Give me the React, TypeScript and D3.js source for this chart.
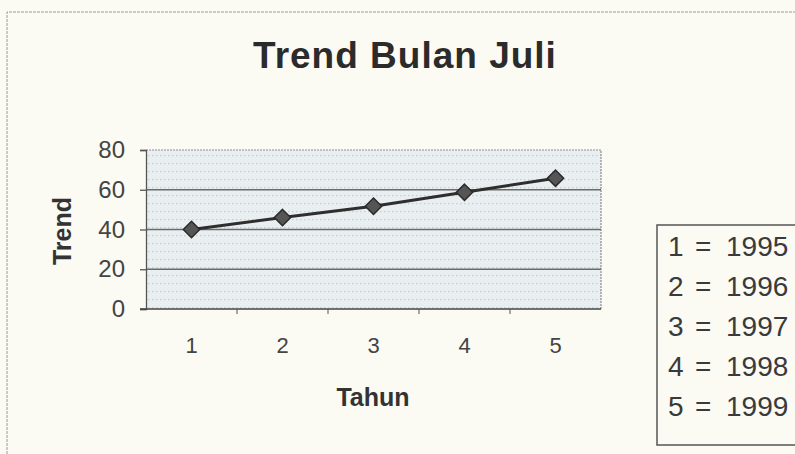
import React, { useRef, useEffect } from 'react';
import * as d3 from 'd3';

// Chart values.
const categories = ['1', '2', '3', '4', '5'];
const trendValues = [40, 46, 51.7, 58.7, 65.8];
const yTicks = [0, 20, 40, 60, 80];
const legendYears = ['1995', '1996', '1997', '1998', '1999'];

const FONT = "'Liberation Sans', Arial, sans-serif";

const App = () => {
  const ref = useRef<SVGSVGElement>(null);

  useEffect(() => {
    const svg = d3.select(ref.current);
    svg.selectAll('*').remove();

    const width = 795;
    const height = 454;

    // Paper background and the outer chart frame (cropped at right/bottom).
    svg.append('rect').attr('width', width).attr('height', height).attr('fill', '#fbfaf3');
    svg.append('path')
      .attr('d', `M7,${height} V12 H${width}`)
      .attr('fill', 'none')
      .attr('stroke', '#9a9a96')
      .attr('stroke-width', 1)
      .attr('stroke-dasharray', '3,1');

    // Scales
    const x = d3.scaleBand().domain(categories).range([146, 601]);
    const y = d3.scaleLinear().domain([0, 80]).range([309, 150]);
    const [x0, x1] = x.range();

    // Dotted plot-area fill
    const defs = svg.append('defs');
    const pat = defs.append('pattern')
      .attr('id', 'dots')
      .attr('width', 4)
      .attr('height', 8)
      .attr('patternUnits', 'userSpaceOnUse');
    pat.append('rect').attr('width', 4).attr('height', 8).attr('fill', '#e9eef0');
    pat.append('rect').attr('x', 0).attr('y', 3).attr('width', 1.5).attr('height', 1.2).attr('fill', '#c9cdcd');

    svg.append('rect')
      .attr('x', x0)
      .attr('y', y(80))
      .attr('width', x1 - x0)
      .attr('height', y(0) - y(80))
      .attr('fill', 'url(#dots)');

    // Dotted border on top and right
    svg.append('path')
      .attr('d', `M${x0},${y(80)} H${x1} V${y(0)}`)
      .attr('fill', 'none')
      .attr('stroke', '#8d8d8d')
      .attr('stroke-width', 1.2)
      .attr('stroke-dasharray', '2,1');

    // Gridlines
    svg.append('g')
      .selectAll('line')
      .data(yTicks.filter(d => d > 0 && d < 80))
      .join('line')
      .attr('x1', x0)
      .attr('x2', x1)
      .attr('y1', d => y(d))
      .attr('y2', d => y(d))
      .attr('stroke', '#6b6b6b')
      .attr('stroke-width', 1.4);

    // Y axis
    const yAxis = svg.append('g')
      .attr('transform', `translate(${x0},0)`)
      .call(d3.axisLeft(y).tickValues(yTicks).tickSize(6).tickPadding(15));
    yAxis.select('.domain').attr('stroke', '#555').attr('stroke-width', 1.3);
    yAxis.selectAll('.tick line').attr('stroke', '#555').attr('stroke-width', 1.3);
    yAxis.selectAll('.tick text')
      .attr('fill', '#444')
      .style('font-family', FONT)
      .style('font-size', '24px');

    // X axis with ticks at category boundaries
    const xAxisG = svg.append('g').attr('transform', `translate(0,${y(0)})`);
    xAxisG.append('line')
      .attr('x1', x0 - 6).attr('x2', x1)
      .attr('stroke', '#444').attr('stroke-width', 1.6);
    xAxisG.selectAll('line.tk')
      .data(categories.slice(1))
      .join('line')
      .attr('class', 'tk')
      .attr('x1', d => x(d)!)
      .attr('x2', d => x(d)!)
      .attr('y1', 0)
      .attr('y2', 5)
      .attr('stroke', '#555');
    xAxisG.selectAll('text')
      .data(categories)
      .join('text')
      .attr('x', d => x(d)! + x.bandwidth() / 2)
      .attr('y', 44)
      .attr('text-anchor', 'middle')
      .attr('fill', '#444')
      .style('font-family', FONT)
      .style('font-size', '22px')
      .text(d => d);

    // Trend line
    const pts = categories.map((c, i) => [x(c)! + x.bandwidth() / 2, y(trendValues[i])] as [number, number]);
    svg.append('path')
      .attr('d', d3.line()(pts))
      .attr('fill', 'none')
      .attr('stroke', '#2e2e2e')
      .attr('stroke-width', 3);

    // Diamond markers
    const diamond = d3.symbol().type(d3.symbolDiamond2).size(170);
    svg.append('g')
      .selectAll('path')
      .data(pts)
      .join('path')
      .attr('transform', d => `translate(${d[0]},${d[1]})`)
      .attr('d', diamond)
      .attr('fill', '#555')
      .attr('stroke', '#2a2a2a')
      .attr('stroke-width', 1.5);

    // Titles
    svg.append('text')
      .attr('x', 405)
      .attr('y', 68)
      .attr('text-anchor', 'middle')
      .attr('fill', '#2b2b2b')
      .style('font-family', FONT)
      .style('font-weight', 'bold')
      .style('font-size', '37px')
      .style('letter-spacing', '1px')
      .text('Trend Bulan Juli');

    svg.append('text')
      .attr('x', 373)
      .attr('y', 406)
      .attr('text-anchor', 'middle')
      .attr('fill', '#333')
      .style('font-family', FONT)
      .style('font-weight', 'bold')
      .style('font-size', '25px')
      .text('Tahun');

    svg.append('text')
      .attr('transform', 'translate(71,231) rotate(-90)')
      .attr('text-anchor', 'middle')
      .attr('fill', '#333')
      .style('font-family', FONT)
      .style('font-weight', 'bold')
      .style('font-size', '25px')
      .text('Trend');

    // Legend box with year codes
    svg.append('rect')
      .attr('x', 657)
      .attr('y', 225)
      .attr('width', 200)
      .attr('height', 220)
      .attr('fill', 'none')
      .attr('stroke', '#555')
      .attr('stroke-width', 1.5);

    const rows = svg.append('g')
      .selectAll('text')
      .data(categories)
      .join('text')
      .attr('y', (_, i) => 256 + i * 40)
      .attr('fill', '#3a3a3a')
      .style('font-family', FONT)
      .style('font-size', '28px');
    rows.append('tspan').attr('x', 668).text(d => d);
    rows.append('tspan').attr('x', 695).text('=');
    rows.append('tspan').attr('x', 726).text((_, i) => legendYears[i]);
  }, []);

  return (
    <svg
      ref={ref}
      width={795}
      height={454}
      style={{ position: 'absolute', left: 0, top: 0 }}
    />
  );
};

export default App;
